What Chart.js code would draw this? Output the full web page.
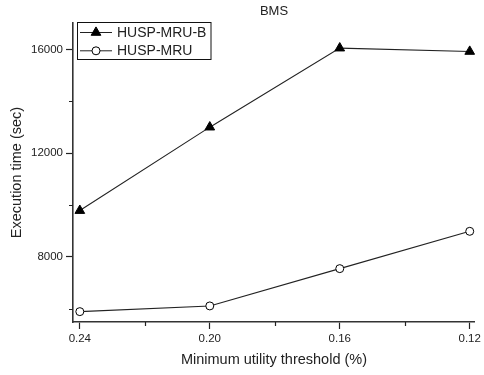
<!DOCTYPE html>
<html>
<head>
<meta charset="utf-8">
<script src="https://cdn.jsdelivr.net/npm/chart.js@4.4.1/dist/chart.umd.min.js"></script>
<style>
  html, body { margin: 0; padding: 0; background: #fff; }
  #wrap { width: 484px; height: 375px; }
</style>
</head>
<body>
<div id="wrap"><canvas id="bmsChart"></canvas></div>
<script>
const thresholds = [0.24, 0.20, 0.16, 0.12];
const mruB = [9780, 13000, 16050, 15920];
const mru = [5880, 6100, 7540, 8980];
const seriesNames = ['HUSP-MRU-B', 'HUSP-MRU'];
const xMajor = [0.24, 0.20, 0.16, 0.12];
const xMinor = [0.22, 0.18, 0.14];
const yMajor = [8000, 12000, 16000];
const yMinor = [6000, 10000, 14000];
const chartTitle = 'BMS';

const FONT = '"Liberation Sans", Arial, sans-serif';
const INK = '#222';

const toPoints = (values) => thresholds.map((x, i) => ({ x, y: values[i] }));

const extras = {
  id: 'extras',
  afterDraw(chart) {
    const { ctx, chartArea, scales } = chart;
    ctx.save();

    // minor ticks
    ctx.strokeStyle = INK;
    ctx.lineWidth = 1.2;
    ctx.beginPath();
    yMinor.forEach((v) => {
      const y = Math.round(scales.y.getPixelForValue(v)) + 0.5;
      ctx.moveTo(chartArea.left, y);
      ctx.lineTo(chartArea.left - 4, y);
    });
    xMinor.forEach((v) => {
      const x = Math.round(scales.x.getPixelForValue(v)) + 0.5;
      ctx.moveTo(x, chartArea.bottom);
      ctx.lineTo(x, chartArea.bottom + 4);
    });
    ctx.stroke();

    // title
    ctx.fillStyle = INK;
    ctx.font = `13px ${FONT}`;
    ctx.textAlign = 'center';
    ctx.textBaseline = 'middle';
    ctx.fillText(chartTitle, (chartArea.left + chartArea.right) / 2, 11);

    // legend box
    const bx = 77.5;
    const by = 22.5;
    ctx.lineWidth = 1;
    ctx.strokeStyle = '#111';
    ctx.strokeRect(bx, by, 133.5, 37);
    ctx.font = `14px ${FONT}`;
    ctx.textAlign = 'left';
    chart.data.datasets.forEach((ds, i) => {
      const cy = 32.5 + i * 18.3;
      ctx.strokeStyle = INK;
      ctx.lineWidth = 1;
      ctx.beginPath();
      ctx.moveTo(80, cy);
      ctx.lineTo(112, cy);
      ctx.stroke();
      ctx.fillStyle = ds.pointBackgroundColor;
      ctx.strokeStyle = ds.pointBorderColor;
      Chart.helpers.drawPoint(ctx, {
        pointStyle: ds.pointStyle,
        radius: ds.pointRadius,
        rotation: 0,
        borderWidth: 1,
      }, 96, cy);
      ctx.fillStyle = INK;
      ctx.fillText(ds.label, 117, cy + 0.5);
    });

    ctx.restore();
  },
};

new Chart(document.getElementById('bmsChart'), {
  type: 'line',
  data: {
    datasets: [
      {
        label: seriesNames[0],
        data: toPoints(mruB),
        borderColor: INK,
        borderWidth: 1.1,
        pointStyle: 'triangle',
        pointRadius: 5.6,
        pointBackgroundColor: '#000',
        pointBorderColor: '#000',
        pointBorderWidth: 1,
        tension: 0,
      },
      {
        label: seriesNames[1],
        data: toPoints(mru),
        borderColor: INK,
        borderWidth: 1.1,
        pointStyle: 'circle',
        pointRadius: 4,
        pointBackgroundColor: '#fff',
        pointBorderColor: '#000',
        pointBorderWidth: 1,
        tension: 0,
      },
    ],
  },
  options: {
    responsive: true,
    maintainAspectRatio: false,
    animation: false,
    layout: { padding: { top: 23, right: 6, left: 0, bottom: 0 } },
    scales: {
      x: {
        type: 'linear',
        reverse: true,
        min: 0.1184,
        max: 0.2421,
        afterBuildTicks: (scale) => { scale.ticks = xMajor.map((value) => ({ value })); },
        afterFit: (scale) => { scale.height = 53; },
        ticks: {
          color: INK,
          padding: 3,
          font: { family: FONT, size: 11.5 },
          maxRotation: 0,
          callback: (value) => Number(value).toFixed(2),
        },
        grid: {
          drawOnChartArea: false,
          drawTicks: true,
          tickLength: 7,
          tickWidth: 1.2,
          tickColor: INK,
        },
        border: { color: '#333', width: 1.6 },
        title: {
          display: true,
          text: 'Minimum utility threshold (%)',
          color: INK,
          font: { family: FONT, size: 14.5 },
          padding: { top: 0, bottom: 6 },
        },
      },
      y: {
        min: 5480,
        max: 17020,
        afterBuildTicks: (scale) => { scale.ticks = yMajor.map((value) => ({ value })); },
        afterFit: (scale) => { scale.width = 73; },
        ticks: {
          color: INK,
          padding: 3,
          font: { family: FONT, size: 11.5 },
          callback: (value) => String(value),
        },
        grid: {
          drawOnChartArea: false,
          drawTicks: true,
          tickLength: 7,
          tickWidth: 1.2,
          tickColor: INK,
        },
        border: { color: '#333', width: 1.6 },
        title: {
          display: true,
          text: 'Execution time (sec)',
          color: INK,
          font: { family: FONT, size: 14.5 },
          padding: { top: 8, bottom: 0 },
        },
      },
    },
    plugins: {
      legend: { display: false },
      title: { display: false },
      tooltip: { enabled: false },
    },
  },
  plugins: [extras],
});
</script>
</body>
</html>
